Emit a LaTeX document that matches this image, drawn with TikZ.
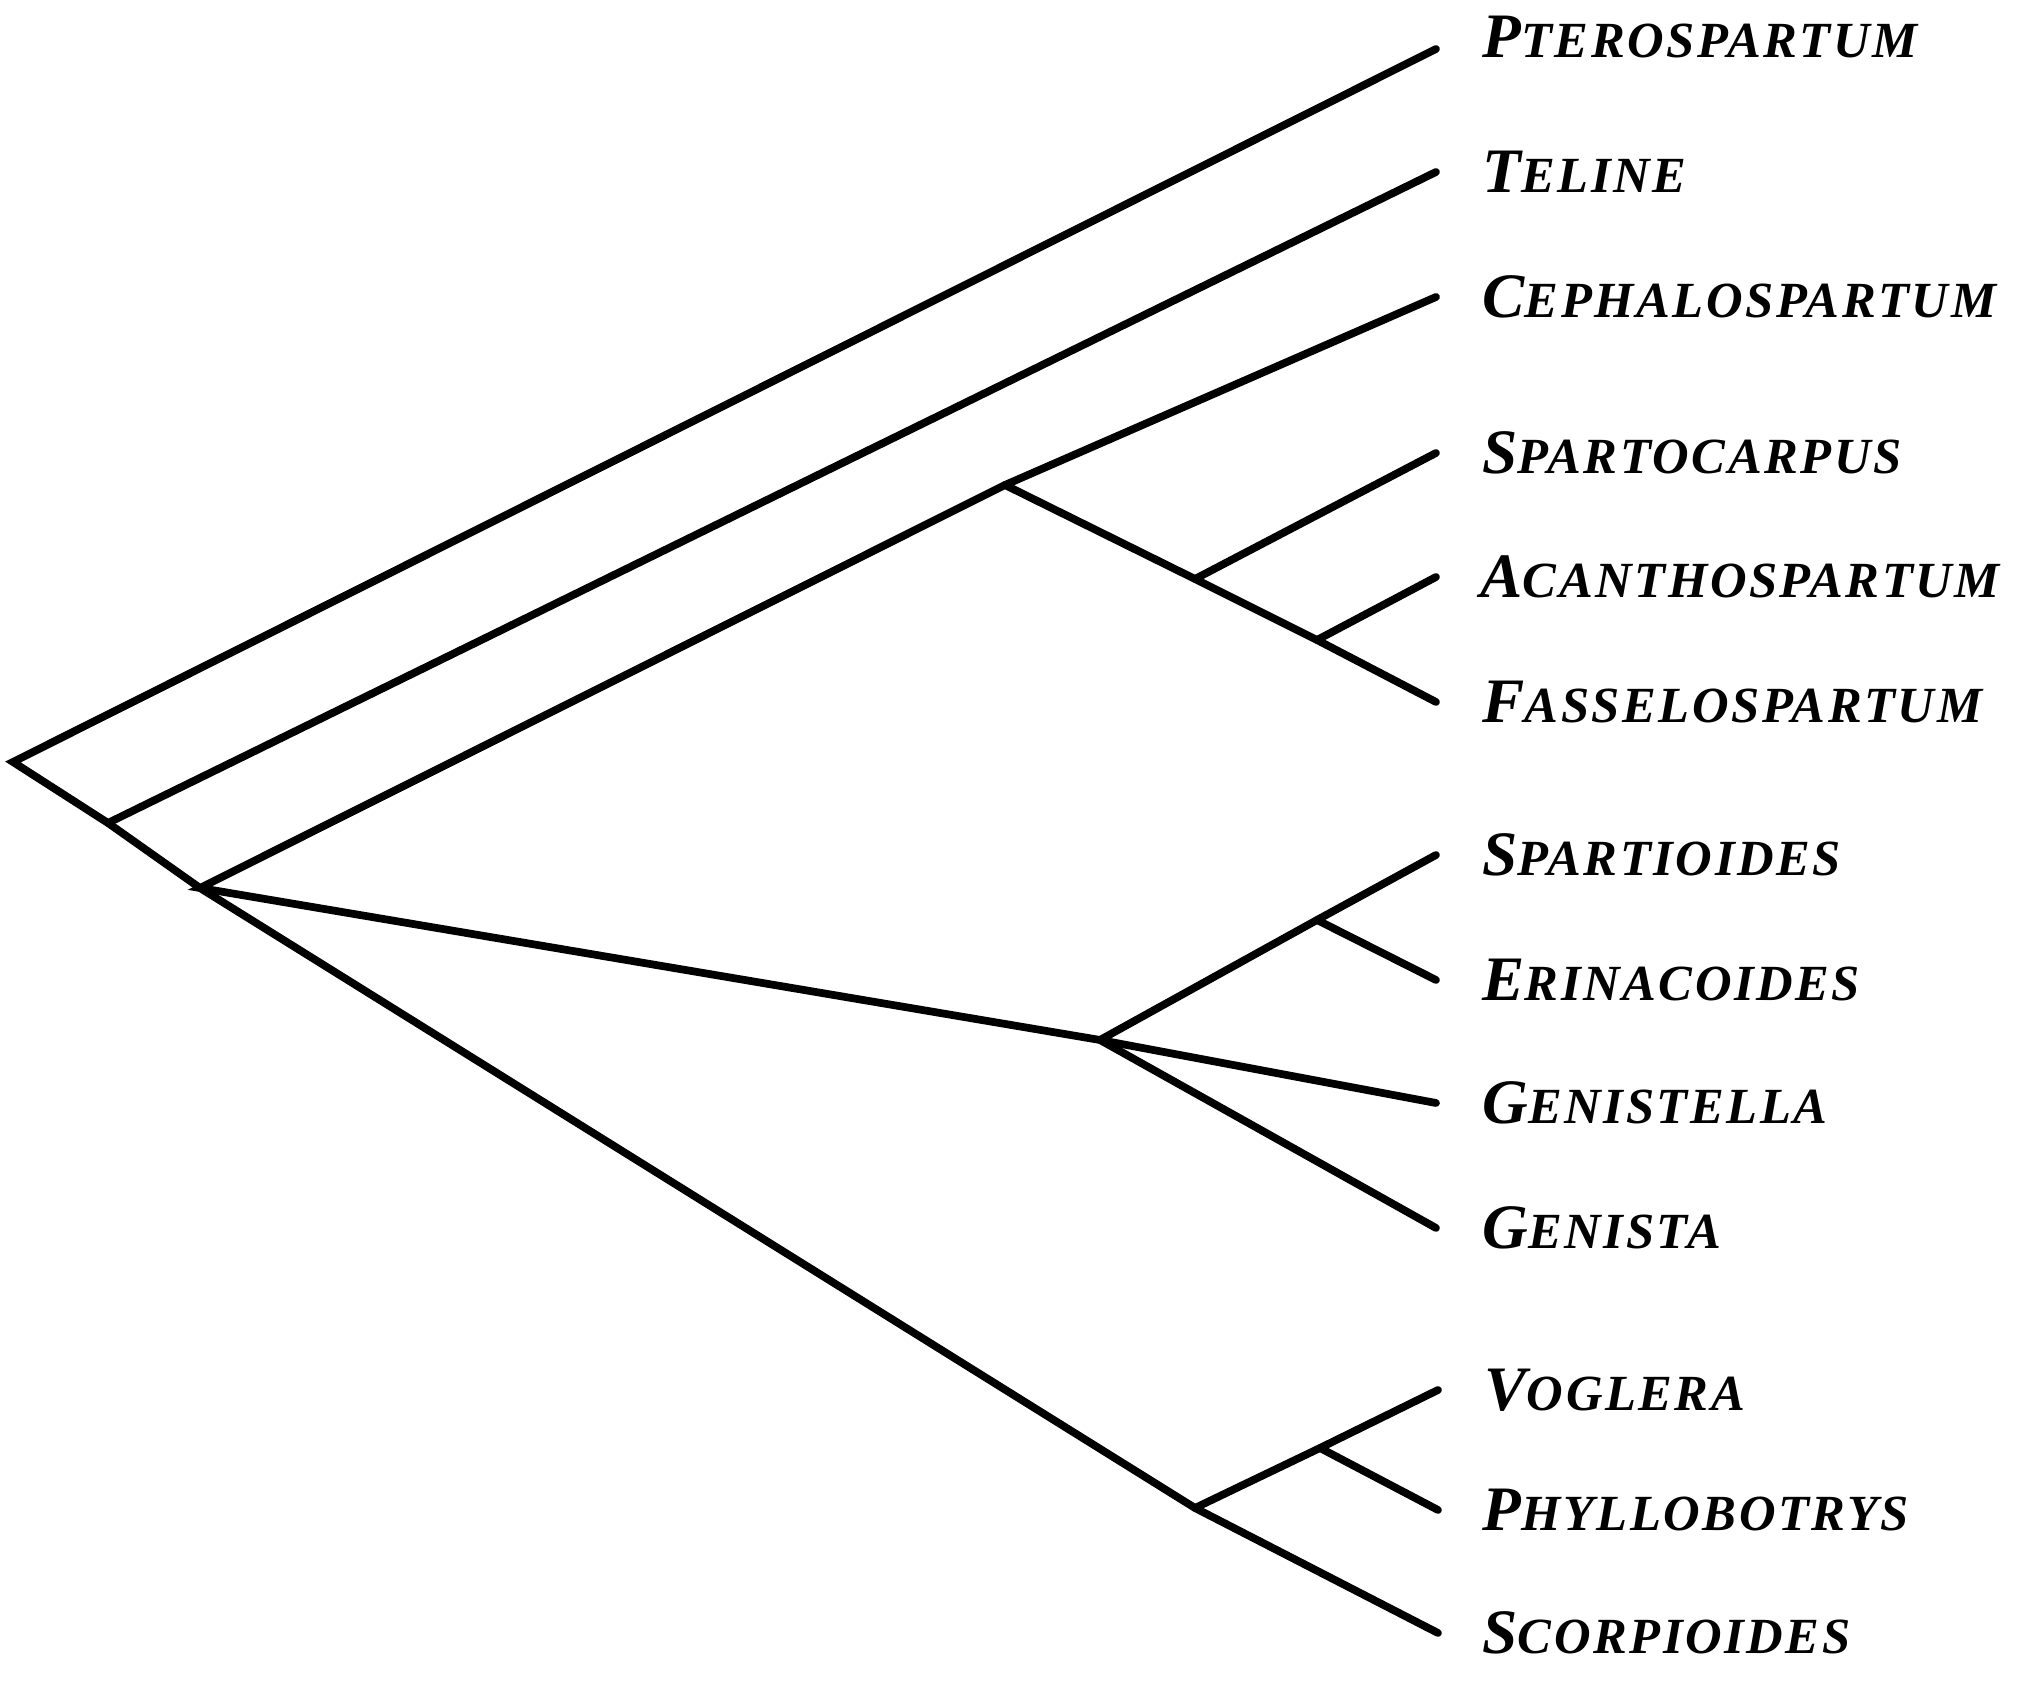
\documentclass[tikz,border=0pt]{standalone}
\usepackage{fontspec}
\setmainfont{Liberation Serif}
\newfontfamily\labfont[LetterSpace=5]{Liberation Serif}
\usetikzlibrary{positioning}
\newcommand{\gsc}[2]{{\fontsize{18}{18}\selectfont #1}{\fontsize{14.4}{15}\selectfont #2}}

\begin{document}
\begin{tikzpicture}[x=0.01cm, y=-0.01cm,
  br/.style={line width=2.2pt, line cap=round},
  lab/.style={anchor=west, inner sep=0pt, font=\labfont\bfseries\itshape}]
\useasboundingbox (0,0) rectangle (2026,1683);

% bouts des branches
\coordinate (pte) at (1436, 49);
\coordinate (tel) at (1436, 172);
\coordinate (cep) at (1436, 297);
\coordinate (spc) at (1436, 453);
\coordinate (aca) at (1436, 577);
\coordinate (fas) at (1436, 702);
\coordinate (spt) at (1436, 855);
\coordinate (eri) at (1436, 980);
\coordinate (gnl) at (1436, 1103);
\coordinate (gna) at (1436, 1228);
\coordinate (vog) at (1438, 1390);
\coordinate (phy) at (1438, 1510);
\coordinate (sco) at (1438, 1633);

% noeuds internes
\coordinate (r0) at (13, 762);
\coordinate (r1) at (108, 823);
\coordinate (r2) at (200, 888);
\coordinate (r3) at (1005, 485);
\coordinate (r4) at (1195, 579);
\coordinate (r5) at (1317, 640);
\coordinate (r6) at (1100, 1040);
\coordinate (r7) at (1317, 920);
\coordinate (r8) at (1195, 1508);
\coordinate (r9) at (1320, 1448);

% arbre
\draw[br] (pte) -- (r0) -- (r1) -- (r2) -- (r8) -- (sco);
\draw[br] (tel) -- (r1);
\draw[br] (cep) -- (r3) -- (r2) -- (r6) -- (gna);
\draw[br] (r3) -- (r4) -- (r5) -- (fas);
\draw[br] (r4) -- (spc);
\draw[br] (r5) -- (aca);
\draw[br] (r6) -- (r7) -- (spt);
\draw[br] (r7) -- (eri);
\draw[br] (r6) -- (gnl);
\draw[br] (r8) -- (r9) -- (vog);
\draw[br] (r9) -- (phy);

% noms
\node[lab, right=0.46cm of pte, yshift=0.12cm] (lpte) {\gsc{P}{TEROSPARTUM}};
\node[lab, right=0.46cm of tel] (ltel) {\gsc{T}{ELINE}};
\node[lab, right=0.46cm of cep] (lcep) {\gsc{C}{EPHALOSPARTUM}};
\node[lab, right=0.46cm of spc] (lspc) {\gsc{S}{PARTOCARPUS}};
\node[lab, right=0.44cm of aca] (laca) {\gsc{A}{CANTHOSPARTUM}};
\node[lab, right=0.46cm of fas] (lfas) {\gsc{F}{ASSELOSPARTUM}};
\node[lab, right=0.46cm of spt] (lspt) {\gsc{S}{PARTIOIDES}};
\node[lab, right=0.46cm of eri] (leri) {\gsc{E}{RINACOIDES}};
\node[lab, right=0.46cm of gnl] (lgnl) {\gsc{G}{ENISTELLA}};
\node[lab, right=0.46cm of gna] (lgna) {\gsc{G}{ENISTA}};
\node[lab, right=0.46cm of vog] (lvog) {\gsc{V}{OGLERA}};
\node[lab, right=0.44cm of phy] (lphy) {\gsc{P}{HYLLOBOTRYS}};
\node[lab, right=0.44cm of sco] (lsco) {\gsc{S}{CORPIOIDES}};

\end{tikzpicture}
\end{document}
